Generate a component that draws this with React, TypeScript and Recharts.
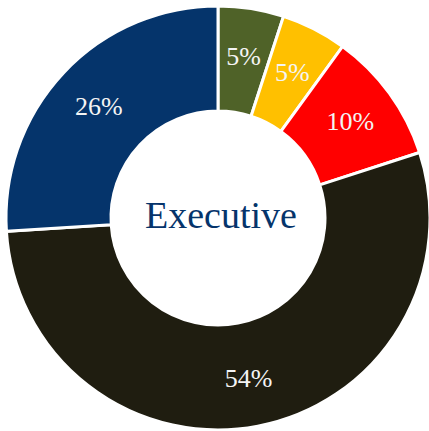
import React from "react";
import { PieChart, Pie, Cell, Label } from "recharts";

const categories = ["A", "B", "C", "D", "E"];
const values = [5, 5, 10, 54, 26];
const labels = ["5%", "5%", "10%", "54%", "26%"];
const colors = ["#4F6228", "#FFC000", "#FF0000", "#1F1D10", "#05346B"];
const centerTitle = "Executive";

const data = categories.map((c, i) => ({ name: c, value: values[i], label: labels[i] }));

const CX = 218;
const CY = 218;
const RAD = Math.PI / 180;
const renderLabel = (props: any) => {
  const { cx, cy, midAngle, innerRadius, outerRadius, index } = props;
  const r = (innerRadius + outerRadius) / 2 + 4;
  const x = cx + r * Math.cos(-midAngle * RAD);
  const y = cy + r * Math.sin(-midAngle * RAD);
  return (
    <text
      x={x}
      y={y}
      fill="#F4F4F4"
      textAnchor="middle"
      dominantBaseline="central"
      fontFamily="'Liberation Serif', 'Times New Roman', serif"
      fontSize={26}
    >
      {data[index].label}
    </text>
  );
};

export default function App() {
  return (
    <div style={{ position: "absolute", left: 0, top: 0, width: 429, height: 431, background: "#fff" }}>
      <PieChart width={429} height={431} margin={{ top: 0, right: 0, bottom: 0, left: 0 }}>
        <Pie
          data={data}
          dataKey="value"
          cx={CX}
          cy={CY}
          innerRadius={107}
          outerRadius={212}
          startAngle={90}
          endAngle={-270}
          stroke="#FFFFFF"
          strokeWidth={3}
          label={renderLabel}
          labelLine={false}
          isAnimationActive={false}
        >
          {data.map((d, i) => (
            <Cell key={d.name} fill={colors[i]} />
          ))}
          <Label
            position="center"
            content={() => (
              <text
                x={CX + 3}
                y={CY - 3}
                textAnchor="middle"
                dominantBaseline="central"
                fill="#05346B"
                fontFamily="'Liberation Serif', 'Times New Roman', serif"
                fontSize={38}
              >
                {centerTitle}
              </text>
            )}
          />
        </Pie>
      </PieChart>
    </div>
  );
}
